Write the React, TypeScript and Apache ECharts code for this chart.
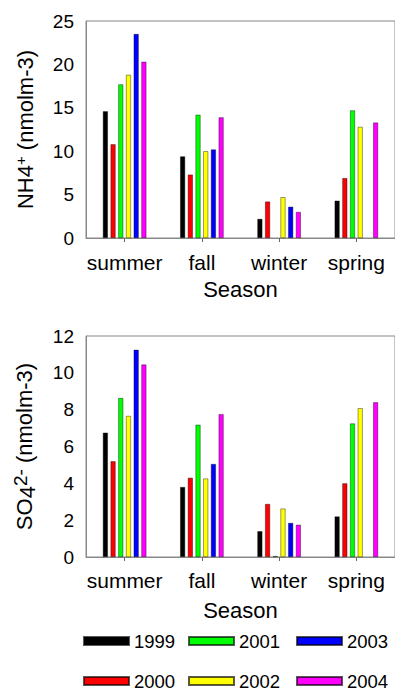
import React, { useEffect, useRef } from "react";
import * as echarts from "echarts";

const seasons = ["summer", "fall", "winter", "spring"];
const years = ["1999", "2000", "2001", "2002", "2003", "2004"];
const colors = ["#000000", "#ff0000", "#00ff00", "#ffff00", "#0000ff", "#ff00ff"];

// NH4+ (nmol m-3) by year, values for summer, fall, winter, spring
const nh4_1999 = [14.6, 9.4, 2.2, 4.3];
const nh4_2000 = [10.8, 7.3, 4.2, 6.9];
const nh4_2001 = [17.7, 14.2, null, 14.7];
const nh4_2002 = [18.8, 10.0, 4.7, 12.8];
const nh4_2003 = [23.5, 10.2, 3.6, null];
const nh4_2004 = [20.3, 13.9, 3.0, 13.3];

// SO4 2- (nmol m-3)
const so4_1999 = [6.75, 3.8, 1.4, 2.2];
const so4_2000 = [5.2, 4.3, 2.88, 4.0];
const so4_2001 = [8.63, 7.18, 0.05, 7.25];
const so4_2002 = [7.66, 4.26, 2.63, 8.08];
const so4_2003 = [11.25, 5.05, 1.85, null];
const so4_2004 = [10.45, 7.76, 1.75, 8.4];

const nh4Ticks = { min: 0, max: 25, interval: 5 };
const so4Ticks = { min: 0, max: 12, interval: 2 };

const nh4Data = [nh4_1999, nh4_2000, nh4_2001, nh4_2002, nh4_2003, nh4_2004];
const so4Data = [so4_1999, so4_2000, so4_2001, so4_2002, so4_2003, so4_2004];

const FONT = "Liberation Sans, Arial, sans-serif";

export default function App() {
  const ref = useRef<HTMLDivElement>(null);
  useEffect(() => {
    if (!ref.current) return;
    const chart = echarts.init(ref.current, null, { renderer: "svg" });

    const xAxisBase = (gridIndex: number, margin: number, nameGap: number) => ({
      type: "category",
      gridIndex,
      data: seasons,
      name: "Season",
      nameLocation: "middle",
      nameGap,
      nameTextStyle: { fontSize: 22, color: "#000", fontFamily: FONT },
      axisLine: { show: true, lineStyle: { color: "#888", width: 1 } },
      axisTick: { show: true, alignWithLabel: true, length: 4, lineStyle: { color: "#666" } },
      axisLabel: { fontSize: 21, color: "#000", fontFamily: FONT, margin, interval: 0, hideOverlap: false },
      splitLine: { show: false },
    });

    const yAxisBase = (gridIndex: number, ticks: any, name: string, rich: any) => ({
      type: "value",
      gridIndex,
      min: ticks.min,
      max: ticks.max,
      interval: ticks.interval,
      name,
      nameLocation: "middle",
      nameGap: 48,
      nameRotate: 90,
      nameTextStyle: { fontSize: 22, color: "#000", fontFamily: FONT, rich },
      axisLine: { show: true, lineStyle: { color: "#888", width: 1 } },
      axisTick: { show: false },
      axisLabel: { fontSize: 19, color: "#000", fontFamily: FONT, margin: 12 },
      splitLine: { show: false },
    });

    const series: any[] = [];
    years.forEach((y, i) => {
      series.push({
        type: "bar",
        name: y,
        xAxisIndex: 0,
        yAxisIndex: 0,
        data: nh4Data[i],
        barWidth: 5,
        barGap: "54%",
        itemStyle: { color: colors[i], borderColor: "rgba(0,0,0,0.65)", borderWidth: 0.6 },
      });
    });
    years.forEach((y, i) => {
      series.push({
        type: "bar",
        name: y,
        xAxisIndex: 1,
        yAxisIndex: 1,
        data: so4Data[i],
        barWidth: 5,
        barGap: "54%",
        itemStyle: { color: colors[i], borderColor: "rgba(0,0,0,0.65)", borderWidth: 0.6 },
      });
    });

    const legendCols = [83, 188, 296];
    const legendRows = [631, 671];
    const legendOrder = [
      [0, 0, 0],
      [1, 0, 1],
      [2, 1, 0],
      [3, 1, 1],
      [4, 2, 0],
      [5, 2, 1],
    ];
    const legends = legendOrder.map(([idx, col, row]) => ({
      data: [years[idx]],
      left: legendCols[col],
      top: legendRows[row],
      orient: "horizontal",
      icon: "rect",
      itemWidth: 45,
      itemHeight: 8,
      itemTextGap: 15,
      padding: 0,
      selectedMode: false,
      textStyle: { fontSize: 18.5, color: "#000", fontFamily: FONT, lineHeight: 20 },
    }));

    chart.setOption({
      animation: false,
      backgroundColor: "#fff",
      textStyle: { fontFamily: FONT },
      grid: [
        { left: 86, top: 21, width: 311, height: 217, show: true, borderColor: "#888", borderWidth: 1, backgroundColor: "transparent" },
        { left: 86, top: 336, width: 311, height: 221, show: true, borderColor: "#888", borderWidth: 1, backgroundColor: "transparent" },
      ],
      xAxis: [xAxisBase(0, 14, 40), xAxisBase(1, 13, 42)],
      yAxis: [
        yAxisBase(0, nh4Ticks, "NH4{sup|+} (nmolm-3)", {
          sup: { fontSize: 15, verticalAlign: "top", padding: [0, 0, 10, 0], fontFamily: FONT, color: "#000" },
        }),
        yAxisBase(1, so4Ticks, "SO{sub|4}{sup|2-} (nmolm-3)", {
          sub: { fontSize: 22, verticalAlign: "bottom", padding: [5, 0, 0, 0], fontFamily: FONT, color: "#000" },
          sup: { fontSize: 19, verticalAlign: "top", padding: [0, 0, 8, 0], fontFamily: FONT, color: "#000" },
        }),
      ],
      legend: legends,
      series,
    });
    return () => chart.dispose();
  }, []);
  return (
    <div
      ref={ref}
      style={{ position: "fixed", left: 0, top: 0, width: 395, height: 690, background: "#fff" }}
    />
  );
}
